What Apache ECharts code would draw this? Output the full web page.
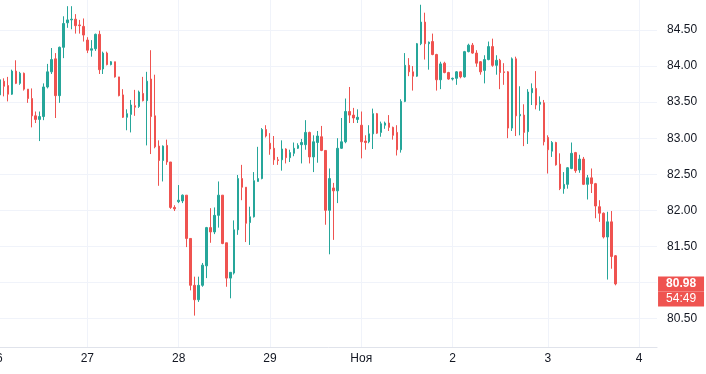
<!DOCTYPE html>
<html>
<head>
<meta charset="utf-8">
<style>
  html, body { margin: 0; padding: 0; background: #ffffff; }
  #chart { width: 706px; height: 374px; }
</style>
<script src="https://cdn.jsdelivr.net/npm/echarts@6/dist/echarts.min.js"></script>
</head>
<body>
<div id="chart"></div>
<script>
// ---- data (hourly candles) ----
const dayLabels   = ['26', '27', '28', '29', 'Ноя', '2', '3', '4'];
const candlesPerDay = [23, 23, 23, 23, 23, 24, 23, 23];
const slotCount   = 167;               // category slots shown on the axis
const priceTicks  = [80.5, 81, 81.5, 82, 82.5, 83, 83.5, 84, 84.5];
const countdown   = '54:49';

const opens = ['-', 83.60,
  83.79, 83.73, 83.61, 83.93, 83.76, 83.90, 83.68, 83.55, 83.31, 83.26,
  83.30, 83.71, 83.92, 84.10, 83.59, 84.26, 84.60, 84.64, 84.65, 84.57,
  84.55, 84.36, 84.22, 84.24, 84.44, 83.96, 84.18, 84.02, 84.06, 83.85,
  83.60, 83.29, 83.33, 83.45, 83.44, 83.62, 83.52, 83.82, 83.31, 82.89,
  82.69, 82.90, 82.67, 82.04, 82.12, 82.13, 82.21, 81.61, 80.96, 80.76,
  80.96, 81.23, 81.76, 81.70, 81.93, 82.21, 81.55, 81.06, 81.13, 81.73,
  82.44, 82.32, 81.83, 81.91, 82.40, 82.44, 83.12, 82.93, 82.86, 82.70,
  82.70, 82.85, 82.73, 82.79, 82.86, 82.91, 82.91, 83.08, 82.74, 82.94,
  83.02, 82.83, 82.00, 82.31, 82.27, 82.86, 82.95, 83.37, 83.32, 83.26,
  83.18, 82.96, 82.95, 83.06, 83.34, 83.08, 83.18, 83.21, 83.15, 83.08,
  82.84, 83.51, 84.01, 83.92, 83.86, 84.31, 84.61, 84.31, 84.34, 84.16,
  83.81, 84.04, 83.91, 83.82, 83.83, 83.92, 83.85, 84.20, 84.29, 84.18,
  84.06, 83.94, 84.09, 84.27, 84.01, 84.08, 83.92, 83.92, 83.14, 84.10,
  83.31, 83.32, 83.09, 83.63, 83.69, 83.47, 83.49, 83.01, 82.82, 82.94,
  82.64, 82.30, 82.36, 82.58, 82.80, 82.56, 82.71, 82.36, 82.45, 82.37,
  82.05, 81.96, 81.63, 81.84, 81.37];

const closes = ['-', 83.81,
  83.72, 83.61, 83.93, 83.76, 83.90, 83.68, 83.55, 83.31, 83.26, 83.30,
  83.71, 83.92, 84.09, 83.59, 84.26, 84.59, 84.64, 84.65, 84.56, 84.56,
  84.43, 84.22, 84.24, 84.44, 83.95, 84.18, 84.02, 84.06, 83.85, 83.59,
  83.29, 83.34, 83.46, 83.43, 83.64, 83.52, 83.79, 83.30, 82.88, 82.69,
  82.89, 82.67, 82.04, 82.02, 82.14, 82.21, 81.61, 80.96, 80.76, 80.96,
  81.24, 81.76, 81.70, 81.93, 82.21, 81.54, 81.06, 81.14, 81.73, 82.44,
  82.32, 81.82, 81.91, 82.41, 82.44, 83.12, 83.03, 82.85, 82.70, 82.69,
  82.85, 82.73, 82.80, 82.86, 82.90, 82.94, 83.08, 82.74, 82.95, 83.03,
  82.83, 82.00, 82.44, 82.27, 82.86, 82.95, 83.37, 83.32, 83.28, 83.29,
  82.95, 82.94, 83.06, 83.34, 83.07, 83.20, 83.21, 83.15, 83.04, 82.84,
  83.51, 84.01, 83.92, 83.86, 84.31, 84.61, 84.31, 84.33, 84.16, 83.81,
  84.03, 83.91, 83.82, 83.83, 83.92, 83.85, 84.20, 84.29, 84.18, 84.04,
  83.92, 84.09, 84.27, 84.01, 84.08, 83.91, 83.91, 83.14, 84.10, 83.31,
  83.33, 83.08, 83.64, 83.69, 83.46, 83.50, 82.95, 82.84, 82.94, 82.63,
  82.30, 82.36, 82.59, 82.79, 82.55, 82.71, 82.36, 82.45, 82.37, 82.06,
  81.96, 81.63, 81.84, 81.36, 80.98];

const lows = ['-', 83.55,
  83.58, 83.51, 83.60, 83.75, 83.74, 83.66, 83.49, 83.15, 83.21, 82.96,
  83.25, 83.69, 83.89, 83.28, 83.49, 84.11, 84.53, 84.51, 84.45, 84.45,
  84.34, 84.18, 84.13, 84.21, 83.89, 83.89, 84.01, 84.01, 83.84, 83.58,
  83.28, 83.11, 83.08, 83.31, 83.42, 83.51, 82.90, 82.78, 82.86, 82.34,
  82.40, 82.63, 82.02, 81.99, 82.10, 82.10, 81.49, 80.89, 80.54, 80.73,
  80.94, 81.06, 81.55, 81.67, 81.76, 81.53, 80.94, 80.78, 81.11, 81.66,
  82.14, 81.56, 81.52, 81.90, 82.40, 82.43, 83.01, 82.77, 82.63, 82.63,
  82.55, 82.65, 82.67, 82.75, 82.85, 82.65, 82.84, 82.65, 82.53, 82.66,
  82.82, 81.80, 81.39, 81.59, 82.10, 82.85, 82.93, 83.21, 83.21, 83.21,
  82.72, 82.84, 82.93, 82.85, 83.06, 83.02, 83.13, 83.10, 82.98, 82.76,
  82.80, 83.50, 83.86, 83.66, 83.85, 84.29, 84.09, 83.95, 84.15, 83.66,
  83.68, 83.90, 83.81, 83.80, 83.74, 83.83, 83.84, 84.19, 84.17, 83.99,
  83.88, 83.76, 84.08, 83.99, 83.88, 83.68, 83.74, 83.00, 83.10, 83.03,
  83.04, 82.89, 82.92, 83.46, 83.40, 83.38, 82.90, 82.51, 82.74, 82.62,
  82.28, 82.23, 82.30, 82.57, 82.52, 82.52, 82.35, 82.15, 82.24, 81.89,
  81.84, 81.61, 81.04, 81.19, 80.96];

const highs = ['-', 83.85,
  83.83, 83.85, 83.95, 84.08, 83.92, 83.91, 83.68, 83.69, 83.37, 83.37,
  83.76, 84.03, 84.25, 84.18, 84.27, 84.69, 84.83, 84.83, 84.72, 84.64,
  84.66, 84.40, 84.36, 84.45, 84.49, 84.20, 84.20, 84.07, 84.06, 83.85,
  83.68, 83.40, 83.53, 83.67, 83.66, 83.85, 83.92, 84.22, 83.88, 82.97,
  82.90, 82.98, 82.67, 82.07, 82.35, 82.22, 82.21, 81.61, 81.08, 81.08,
  81.27, 81.77, 82.03, 82.04, 82.40, 82.21, 81.55, 81.14, 81.86, 82.49,
  82.63, 82.32, 82.05, 82.53, 82.88, 83.14, 83.18, 83.07, 83.03, 82.74,
  82.97, 82.86, 82.84, 82.94, 82.93, 82.99, 83.25, 83.09, 83.04, 83.10,
  83.17, 82.83, 82.58, 82.38, 83.00, 83.28, 83.55, 83.71, 83.42, 83.40,
  83.37, 83.04, 83.18, 83.41, 83.35, 83.23, 83.23, 83.32, 83.16, 83.18,
  83.54, 84.18, 84.11, 84.00, 84.32, 84.85, 84.74, 84.34, 84.45, 84.17,
  84.06, 84.06, 83.92, 83.84, 83.93, 83.93, 84.21, 84.31, 84.32, 84.22,
  84.07, 84.15, 84.34, 84.38, 84.15, 84.10, 84.04, 83.93, 84.12, 84.13,
  83.72, 83.47, 83.68, 83.76, 83.93, 83.58, 83.53, 83.04, 82.96, 82.95,
  82.79, 82.53, 82.60, 82.94, 82.81, 82.77, 82.74, 82.49, 82.58, 82.38,
  82.14, 81.97, 81.98, 81.99, 81.38];

// ---- build library inputs ----
const categories = [];
dayLabels.forEach((d, i) => {
  for (let h = 0; h < candlesPerDay[i]; h++) categories.push(d + '|' + h);
});
categories.length = slotCount;

const ohlc = opens.map((o, i) =>
  o === '-' ? '-' : [o, closes[i], lows[i], highs[i]]);
const lastClose = closes[closes.length - 1];

// ---- styling / layout ----
const UP = '#26a69a', DOWN = '#ef5350';
const GRID_LINE = '#f0f3fa', AXIS_LINE = '#e0e3eb', TEXT = '#131722';
const FONT = '"Liberation Sans", Arial, sans-serif';
const SLOT = 3.97;
const LEFT = 3.985 - 2.5 * SLOT;
const RIGHT = 706 - (LEFT + slotCount * SLOT);
const PX_PER_UNIT = 72.125;          // pixels per 1.00 of price
const Y_8450 = 30;                   // pixel row of the 84.50 gridline
const AXIS_Y = 347;                  // pixel row of the time axis
const yMax = 84.5 + Y_8450 / PX_PER_UNIT;
const yMin = 84.5 - (AXIS_Y - Y_8450) / PX_PER_UNIT;
const tickStep = priceTicks[1] - priceTicks[0];
const tickTop = priceTicks[priceTicks.length - 1] + tickStep;
const gridTop2 = Y_8450 - (tickTop - 84.5) * PX_PER_UNIT;
const gridBottom2 = 374 - (Y_8450 + (84.5 - priceTicks[0]) * PX_PER_UNIT);

const isDayStart = (idx, val) => typeof val === 'string' && val.endsWith('|0');

const chart = echarts.init(document.getElementById('chart'), null, { renderer: 'canvas' });
chart.setOption({
  animation: false,
  backgroundColor: '#ffffff',
  textStyle: { fontFamily: FONT },
  grid: [
    { left: LEFT, right: RIGHT, top: 0, bottom: 374 - AXIS_Y, containLabel: false, outerBoundsMode: 'none' },
    { left: LEFT, right: RIGHT, top: gridTop2, bottom: gridBottom2, containLabel: false, outerBoundsMode: 'none' },
    { left: LEFT, right: RIGHT, top: 0, bottom: 0, containLabel: false, outerBoundsMode: 'none' }
  ],
  xAxis: [
    {
      gridIndex: 0, type: 'category', data: categories, boundaryGap: true,
      axisLine: { show: true, lineStyle: { color: AXIS_LINE, width: 1 } },
      axisTick: { show: false },
      axisLabel: {
        interval: isDayStart, margin: 6, color: TEXT, fontSize: 12, fontFamily: FONT,
        formatter: v => v.split('|')[0]
      },
      splitLine: { show: true, interval: isDayStart, alignWithLabel: true, lineStyle: { color: GRID_LINE, width: 1 } }
    },
    { gridIndex: 1, type: 'value', show: false },
    { gridIndex: 2, type: 'value', show: false }
  ],
  yAxis: [
    {
      gridIndex: 0, type: 'value', position: 'right', min: yMin, max: yMax,
      axisLine: { show: false }, axisTick: { show: false },
      axisLabel: { show: false }, splitLine: { show: false }
    },
    {
      gridIndex: 1, type: 'value', position: 'right',
      min: priceTicks[0], max: tickTop, interval: tickStep,
      axisLine: { show: false }, axisTick: { show: false },
      axisLabel: {
        show: true, margin: 10, color: TEXT, fontSize: 12, fontFamily: FONT,
        showMaxLabel: false,
        formatter: v => (priceTicks.some(t => Math.abs(t - v) < 1e-6) ? v.toFixed(2) : '')
      },
      splitLine: { show: true, lineStyle: { color: GRID_LINE, width: 1 } }
    },
    {
      gridIndex: 2, type: 'value', position: 'right', min: 0, max: 1,
      axisLine: { show: true, lineStyle: { color: AXIS_LINE, width: 1 } },
      axisTick: { show: false }, axisLabel: { show: false }, splitLine: { show: false }
    }
  ],
  series: [{
    type: 'candlestick',
    xAxisIndex: 0, yAxisIndex: 0,
    data: ohlc,
    barWidth: 2,
    clip: false,
    itemStyle: {
      color: UP, color0: DOWN, borderColor: UP, borderColor0: DOWN, borderWidth: 1
    },
    markLine: {
      silent: true,
      symbol: ['none', 'none'],
      animation: false,
      lineStyle: { color: 'rgba(0,0,0,0)', width: 1, type: 'solid' },
      label: {
        show: true, position: 'end', distance: 1, padding: 0,
        formatter: () => '{e|}\n{p|' + lastClose.toFixed(2) + '}\n{t|' + countdown + '}',
        rich: {
          e: { width: 46, height: 15, lineHeight: 15 },
          p: { width: 46, height: 15, lineHeight: 15, align: 'center', backgroundColor: DOWN,
               color: '#ffffff', fontWeight: 'bold', fontSize: 12, fontFamily: FONT },
          t: { width: 46, height: 15, lineHeight: 15, align: 'center', backgroundColor: DOWN,
               color: '#ffffff', fontWeight: 'normal', fontSize: 12, fontFamily: FONT }
        }
      },
      data: [{ yAxis: lastClose }]
    }
  }]
});
</script>
</body>
</html>
